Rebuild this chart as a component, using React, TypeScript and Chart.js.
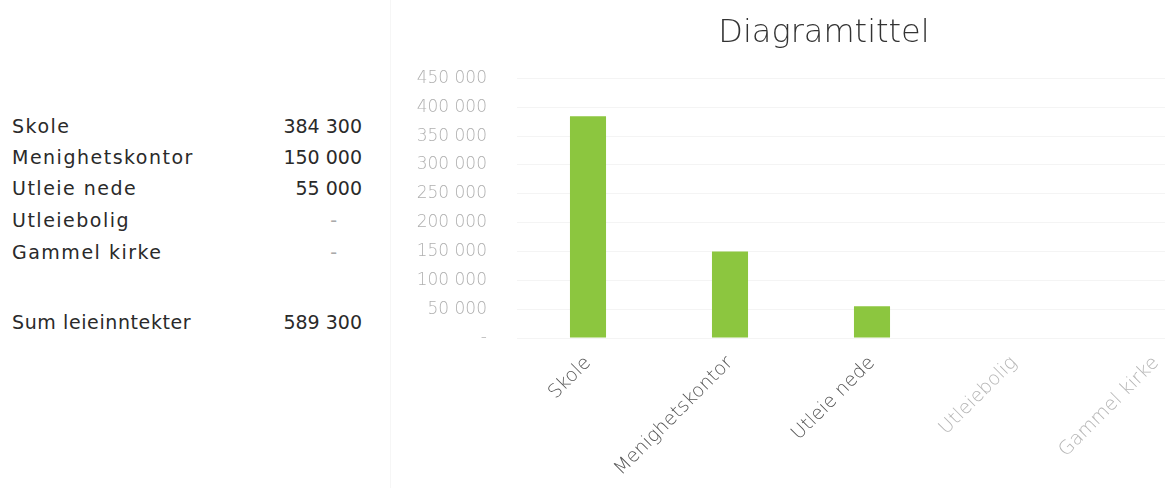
import React, { useEffect, useRef } from "react";
import { Chart, registerables } from "chart.js";

Chart.register(...registerables);

const categories: string[] = ["Skole", "Menighetskontor", "Utleie nede", "Utleiebolig", "Gammel kirke"];
const values: number[] = [384300, 150000, 55000, 0, 0];
const sumLabel = "Sum leieinntekter";
const chartTitle = "Diagramtittel";
const yTicks: number[] = [0, 50000, 100000, 150000, 200000, 250000, 300000, 350000, 400000, 450000];
const xTickColors: string[] = ["#555555", "#555555", "#555555", "#b5b5b5", "#b5b5b5"];

const fmt = (v: number): string => {
  if (v === 0) return "-";
  return String(v).replace(/\B(?=(\d{3})+(?!\d))/g, " ");
};

const CHART_FONT = "'DejaVu Sans', sans-serif";

const titleShift = {
  id: "titleShift",
  afterLayout(chart: any) {
    const t = chart.titleBlock;
    if (t) {
      t.left += 21;
      t.width -= 21;
    }
  },
};

export default function App() {
  const ref = useRef<HTMLCanvasElement | null>(null);

  useEffect(() => {
    if (!ref.current) return;
    const chart = new Chart(ref.current, {
      type: "bar",
      data: {
        labels: categories,
        datasets: [
          {
            data: values,
            backgroundColor: "#8cc63f",
            borderWidth: 0,
            categoryPercentage: 1,
            barPercentage: 0.254,
          },
        ],
      },
      plugins: [titleShift],
      options: {
        responsive: false,
        animation: false,
        devicePixelRatio: 1,
        layout: { padding: { left: 0, right: 10, top: 0, bottom: 0 } },
        plugins: {
          legend: { display: false },
          tooltip: { enabled: false },
          title: {
            display: true,
            text: chartTitle,
            color: "#333333",
            font: { family: CHART_FONT, size: 32, weight: 200 },
            padding: { top: 14, bottom: 26 },
          },
        },
        scales: {
          y: {
            min: 0,
            max: 450000,
            afterBuildTicks: (scale: any) => {
              scale.ticks = yTicks.map((v) => ({ value: v }));
            },
            afterFit: (scale: any) => {
              scale.width = 117;
            },
            ticks: {
              padding: 30,
              color: "#b0b0b0",
              font: { family: CHART_FONT, size: 17, weight: 200 },
              callback: (v: any) => fmt(Number(v)),
            },
            grid: { color: "#f4f4f4", drawTicks: false },
            border: { display: false },
          },
          x: {
            afterFit: (scale: any) => {
              scale.height = 150;
            },
            ticks: {
              autoSkip: false,
              minRotation: 45,
              maxRotation: 45,
              padding: 6,
              color: xTickColors,
              font: { family: CHART_FONT, size: 19, weight: 200 },
            },
            grid: { display: false },
            border: { display: false },
          },
        },
      },
    });
    return () => chart.destroy();
  }, []);

  const total = values.reduce((a, b) => a + b, 0);
  const rowTops = [113, 144, 175, 207, 239];
  const tableFont: React.CSSProperties = {
    position: "absolute",
    fontFamily: "'DejaVu Sans', sans-serif",
    fontSize: 19,
    lineHeight: "26px",
    color: "#2a2a2a",
    whiteSpace: "nowrap",
  };

  return (
    <div style={{ position: "absolute", left: 0, top: 0, width: 1165, height: 488, overflow: "hidden", background: "#fff" }}>
      {categories.map((c, i) => (
        <React.Fragment key={c}>
          <div style={{ ...tableFont, left: 12, top: rowTops[i], letterSpacing: 1.5 }}>{c}</div>
          <div
            style={{
              ...tableFont,
              right: 1165 - (values[i] === 0 ? 337 : 362),
              top: rowTops[i],
              color: values[i] === 0 ? "#aaa" : "#2a2a2a",
            }}
          >
            {fmt(values[i])}
          </div>
        </React.Fragment>
      ))}
      <div style={{ ...tableFont, left: 12, top: 309, letterSpacing: 0.6 }}>{sumLabel}</div>
      <div style={{ ...tableFont, right: 1165 - 362, top: 309 }}>{fmt(total)}</div>
      <div style={{ position: "absolute", left: 390, top: 0, width: 1, height: 488, background: "#f6f6f6" }} />
      <canvas ref={ref} width={837} height={488} style={{ position: "absolute", left: 400, top: 0, width: 837, height: 488 }} />
    </div>
  );
}
